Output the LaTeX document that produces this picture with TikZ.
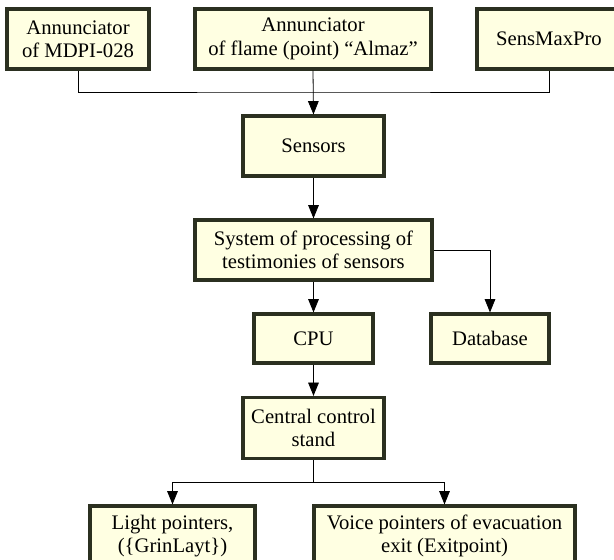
\documentclass[tikz,border=0pt]{standalone}
\usepackage{fontspec}
\setmainfont{Liberation Serif}
\usetikzlibrary{arrows.meta}
\definecolor{boxfill}{HTML}{FFFFE2}
\definecolor{boxline}{HTML}{2B3020}
\tikzset{
  blk/.style={draw=boxline, line width=2.4pt, fill=boxfill, align=center, inner sep=0pt,
    font=\fontsize{15.5pt}{17.5pt}\selectfont},
  conn/.style={line width=0.6pt, black},
  arr/.style={conn, -{Triangle[length=10pt,width=8pt]}}
}
\begin{document}
\begin{tikzpicture}[x=0.75pt,y=-0.75pt]
\useasboundingbox (0,0) rectangle (614,560);
\node[blk, minimum width=142*0.75pt, minimum height=60*0.75pt] (a1) at (78,39) {Annunciator\\of MDPI-028};
\node[blk, minimum width=236*0.75pt, minimum height=60*0.75pt] (a2) at (313,39) {Annunciator\\of flame (point) “Almaz”};
\node[blk, minimum width=144*0.75pt, minimum height=60*0.75pt] (a3) at (549,39) {SensMaxPro};
\node[blk, minimum width=141*0.75pt, minimum height=60*0.75pt] (sen) at (313.5,146) {Sensors};
\node[blk, minimum width=237*0.75pt, minimum height=60*0.75pt] (sys) at (313.5,250) {System of processing of\\testimonies of sensors};
\node[blk, minimum width=119*0.75pt, minimum height=49*0.75pt] (cpu) at (313.5,338.5) {CPU};
\node[blk, minimum width=118*0.75pt, minimum height=49*0.75pt] (db) at (490,338.5) {Database};
\node[blk, minimum width=141*0.75pt, minimum height=61*0.75pt] (ccs) at (313.5,428) {Central control\\stand};
\node[blk, minimum width=165*0.75pt, minimum height=60*0.75pt] (lp) at (172.5,536) {Light pointers,\\(\{GrinLayt\})};
\node[blk, minimum width=261*0.75pt, minimum height=60*0.75pt] (vp) at (444.5,536) {Voice pointers of evacuation\\exit (Exitpoint)};
\coordinate (j1) at (313.5,92);
\coordinate (j2) at (313.5,482);
\draw[conn] (a1.south) |- (j1) -| (a3.south);
\draw[arr] (a2.south) -- (sen.north);
\draw[arr] (sen.south) -- (sys.north);
\draw[arr] (sys.south) -- (cpu.north);
\draw[arr] (sys.east) -| (db.north);
\draw[arr] (cpu.south) -- (ccs.north);
\draw[conn] (ccs.south) -- (j2);
\draw[arr] (j2) -| (lp.north);
\draw[arr] (j2) -| (vp.north);
\end{tikzpicture}
\end{document}
